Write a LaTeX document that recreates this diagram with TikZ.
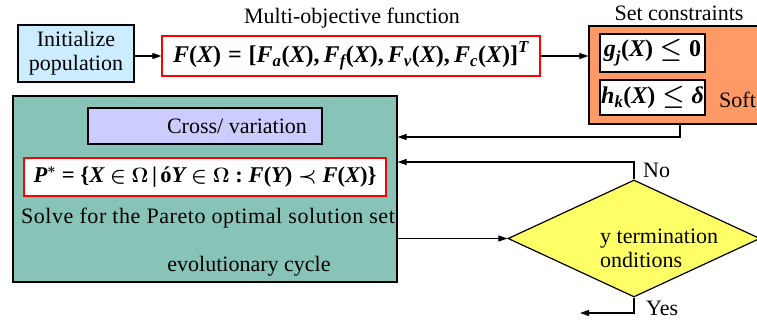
\documentclass[tikz,border=0pt]{standalone}
\usepackage{amsmath,amssymb}
\usepackage{fontspec}
\setmainfont{Liberation Serif}
\usetikzlibrary{arrows.meta,shapes.geometric}
\newcommand\bi[1]{\textbf{\itshape #1}}
\newcommand\br[1]{\textbf{\upshape #1}}
\definecolor{initblue}{RGB}{204,236,255}
\definecolor{consorange}{RGB}{255,153,102}
\definecolor{evoteal}{RGB}{136,195,183}
\definecolor{crossblue}{RGB}{204,204,255}
\definecolor{diayellow}{RGB}{255,255,102}
\begin{document}
\begin{tikzpicture}[x=1pt,y=-1pt,font=\fontsize{22}{24}\selectfont,
  box/.style={draw=black,line width=1.2pt,inner sep=0pt,align=center},
  redbox/.style={draw=red,line width=1.2pt,fill=white,inner sep=0pt},
  arr/.style={line width=1.2pt,-{Triangle[length=9pt,width=6pt]}},
  fml/.style={font=\fontsize{24}{26}\selectfont}]
\useasboundingbox (0,0) rectangle (757,324);
\clip (0,0) rectangle (757,324);
% top row
\node[box,fill=initblue,minimum width=116pt,minimum height=57pt] (init) at (76,53.5) {Initialize\\population};
\node[redbox,fml,minimum width=378pt,minimum height=40pt] (mof) at (351,56)
  {$\bi{F}\br{(}\bi{X}\br{)}\mathrel{\br{=}}\br{[}\bi{F}_{\bi{a}}\br{(}\bi{X}\br{)}\mathpunct{\br{,}}\bi{F}_{\bi{f}}\br{(}\bi{X}\br{)}\mathpunct{\br{,}}\bi{F}_{\bi{v}}\br{(}\bi{X}\br{)}\mathpunct{\br{,}}\bi{F}_{\bi{c}}\br{(}\bi{X}\br{)}\br{]}^{\bi{T}}$};
\node (title) at (352,18) {Multi-objective function};
\node[box,fill=consorange,minimum width=182pt,minimum height=98pt] (cons) at (680,75) {};
\node (constitle) at (679,13) {Set constraints};
\node[box,fill=white,fml,minimum width=105pt,minimum height=38pt] (g) at (652.5,53)
  {$\bi{g}_{\bi{j}}\br{(}\bi{X}\br{)}\mathrel{\boldsymbol{\le}}\br{0}$};
\node[box,fill=white,fml,minimum width=105pt,minimum height=35pt] (h) at (652.5,97.5)
  {$\bi{h}_{\bi{k}}\br{(}\bi{X}\br{)}\mathrel{\boldsymbol{\le}}\bi{δ}$};
\node[anchor=west,inner sep=0pt] (soft) at (719,100) {Soft};
% evolutionary block
\node[box,fill=evoteal,minimum width=384pt,minimum height=186pt] (evo) at (205,189) {};
\node[box,fill=crossblue,minimum width=234pt,minimum height=36pt] (cross) at (205,126) {};
\node (crosstext) at (237,126) {Cross/ variation};
\node[redbox,font=\fontsize{22.5}{24}\selectfont,minimum width=362pt,minimum height=38pt] (pareto) at (205,177)
  {$\bi{P}^{\boldsymbol{*}}\mathrel{\br{=}}\br{\{}\bi{X}\mathrel{\boldsymbol{\in}}\boldsymbol{\Omega}\,\br{|}\,\br{ó}\bi{Y}\mathrel{\boldsymbol{\in}}\boldsymbol{\Omega}\mathrel{\br{:}}\bi{F}\br{(}\bi{Y}\br{)}\mathrel{\boldsymbol{\prec}}\bi{F}\br{(}\bi{X}\br{)}\br{\}}$};
\node (solve) at (208,218) {\addfontfeatures{LetterSpace=2.6}Solve for the Pareto optimal solution set};
\node (cycle) at (249,266) {evolutionary cycle};
% decision
\node[diamond,draw=black,line width=1.2pt,fill=diayellow,minimum width=252pt,minimum height=117pt,inner sep=0pt] (dia) at (634,238.5) {};
\node[anchor=west,align=left,inner sep=0pt] (diatext) at (600,248) {y termination\\onditions};
\node[anchor=west,inner sep=0pt] (no) at (643,170) {No};
\node[anchor=west,inner sep=0pt] (yes) at (646,308) {Yes};
% connectors
\coordinate (k1) at (0,137);
\coordinate (noturn) at (634,162);
\coordinate (yesend) at (580,313);
\draw[arr] (init.east |- mof.west) -- (mof.west);
\draw[arr] (mof.east) -- (cons.west |- mof.east);
\draw[arr] (cons.south) |- (evo.east |- k1);
\draw[arr] (dia.north) -- (noturn) -- (evo.east |- noturn);
\draw[arr] (evo.east |- dia.west) -- (dia.west);
\draw[arr] (dia.south) |- (yesend);
\end{tikzpicture}
\end{document}
